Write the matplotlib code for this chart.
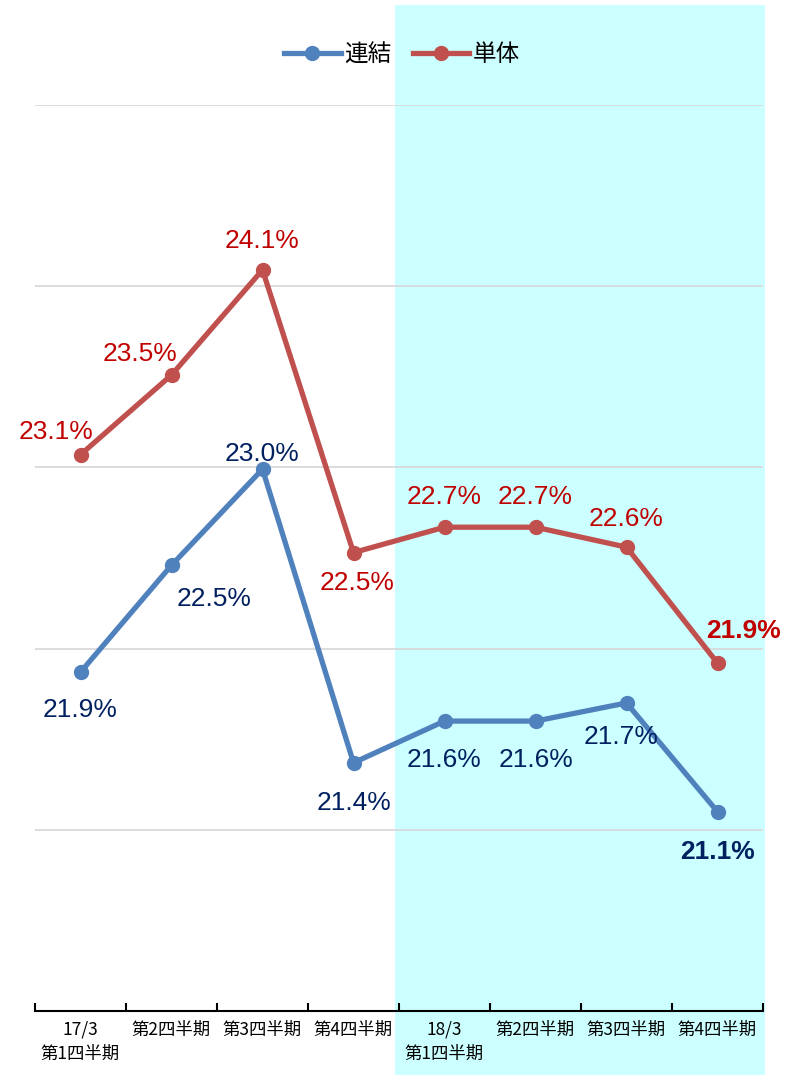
import matplotlib
matplotlib.use("Agg")
import matplotlib.pyplot as plt
from matplotlib.patches import Rectangle
from matplotlib.lines import Line2D

# ---- data ----
categories = ["17/3\n第1四半期", "第2四半期", "第3四半期", "第4四半期",
              "18/3\n第1四半期", "第2四半期", "第3四半期", "第4四半期"]
consolidated = [21.87, 22.46, 22.99, 21.37, 21.60, 21.60, 21.70, 21.10]
standalone = [23.07, 23.51, 24.09, 22.53, 22.67, 22.67, 22.56, 21.92]
series_names = ["連結", "単体"]

# ---- style ----
W, H = 798, 1075
blue, red = "#4F81BD", "#C0504D"
blue_lbl, red_lbl = "#002060", "#C00000"
jp = ["Noto Sans CJK JP", "DejaVu Sans"]
num_font = "Liberation Sans"

fig = plt.figure(figsize=(W / 100, H / 100), dpi=100)
fig.patch.set_facecolor("white")

# highlighted region (second fiscal year)
fig.patches.append(Rectangle((395 / W, 0), (765 - 395) / W, (H - 5) / H,
                             transform=fig.transFigure, facecolor="#CCFFFF",
                             edgecolor="none", zorder=-5))

ax = fig.add_axes([35 / W, (H - 1011) / H, (763 - 35) / W, (1011 - 105) / H])
ax.set_zorder(1)
ax.patch.set_alpha(0)
n = len(categories)
x = list(range(n))
ax.set_xlim(-0.5, n - 0.5)
ax.set_ylim(20, 25)

ax.set_yticks([21, 22, 23, 24, 25])
ax.yaxis.grid(True, color="#D9D9D9", linewidth=1.3)
ax.tick_params(axis="y", left=False, labelleft=False)
for s in ["left", "right", "top"]:
    ax.spines[s].set_visible(False)
ax.spines["bottom"].set_color("black")
ax.spines["bottom"].set_linewidth(1.5)
ax.set_axisbelow(True)

ax.set_xticks([i - 0.5 for i in range(n + 1)])
ax.set_xticklabels([])
ax.tick_params(axis="x", which="major", direction="in", length=6, width=1.5, color="black")
ax.set_xticks(x, minor=True)
ax.set_xticklabels(categories, minor=True, fontfamily=jp, fontsize=12.5,
                   linespacing=1.45, va="top")
ax.tick_params(axis="x", which="minor", length=0, pad=7)

ax.plot(x, consolidated, color=blue, linewidth=3.8, marker="o", markersize=10,
        solid_capstyle="round", zorder=3)
ax.plot(x, standalone, color=red, linewidth=3.8, marker="o", markersize=10,
        solid_capstyle="round", zorder=3)

# label offsets in pixels (dx, dy) relative to point
blue_off = [(0, -38), (43, -34), (0, 15), (0, -40), (0, -39), (0, -39), (-5, -34), (0, -40)]
red_off = [(-24, 23), (-31, 21), (0, 29), (4, -30), (0, 30), (0, 30), (0, 28), (26, 32)]
for i in x:
    last = i == n - 1
    ax.annotate(f"{consolidated[i]:.1f}%", (i, consolidated[i]), xytext=blue_off[i],
                textcoords="offset pixels", ha="center", va="center",
                color=blue_lbl, fontsize=19, fontfamily=num_font,
                fontweight="bold" if last else "normal", zorder=4)
    ax.annotate(f"{standalone[i]:.1f}%", (i, standalone[i]), xytext=red_off[i],
                textcoords="offset pixels", ha="center", va="center",
                color=red_lbl, fontsize=19, fontfamily=num_font,
                fontweight="bold" if last else "normal", zorder=4)

handles = [Line2D([], [], color=blue, linewidth=3.8, marker="o", markersize=10),
           Line2D([], [], color=red, linewidth=3.8, marker="o", markersize=10)]
leg = fig.legend(handles, series_names, loc="center", bbox_to_anchor=(402 / W, 1 - 55 / H),
                 ncol=2, frameon=False, prop={"family": jp, "size": 17},
                 handlelength=2.4, handletextpad=0.15, columnspacing=0.9)
leg.set_zorder(10)

fig.savefig("out.png", dpi=100)
